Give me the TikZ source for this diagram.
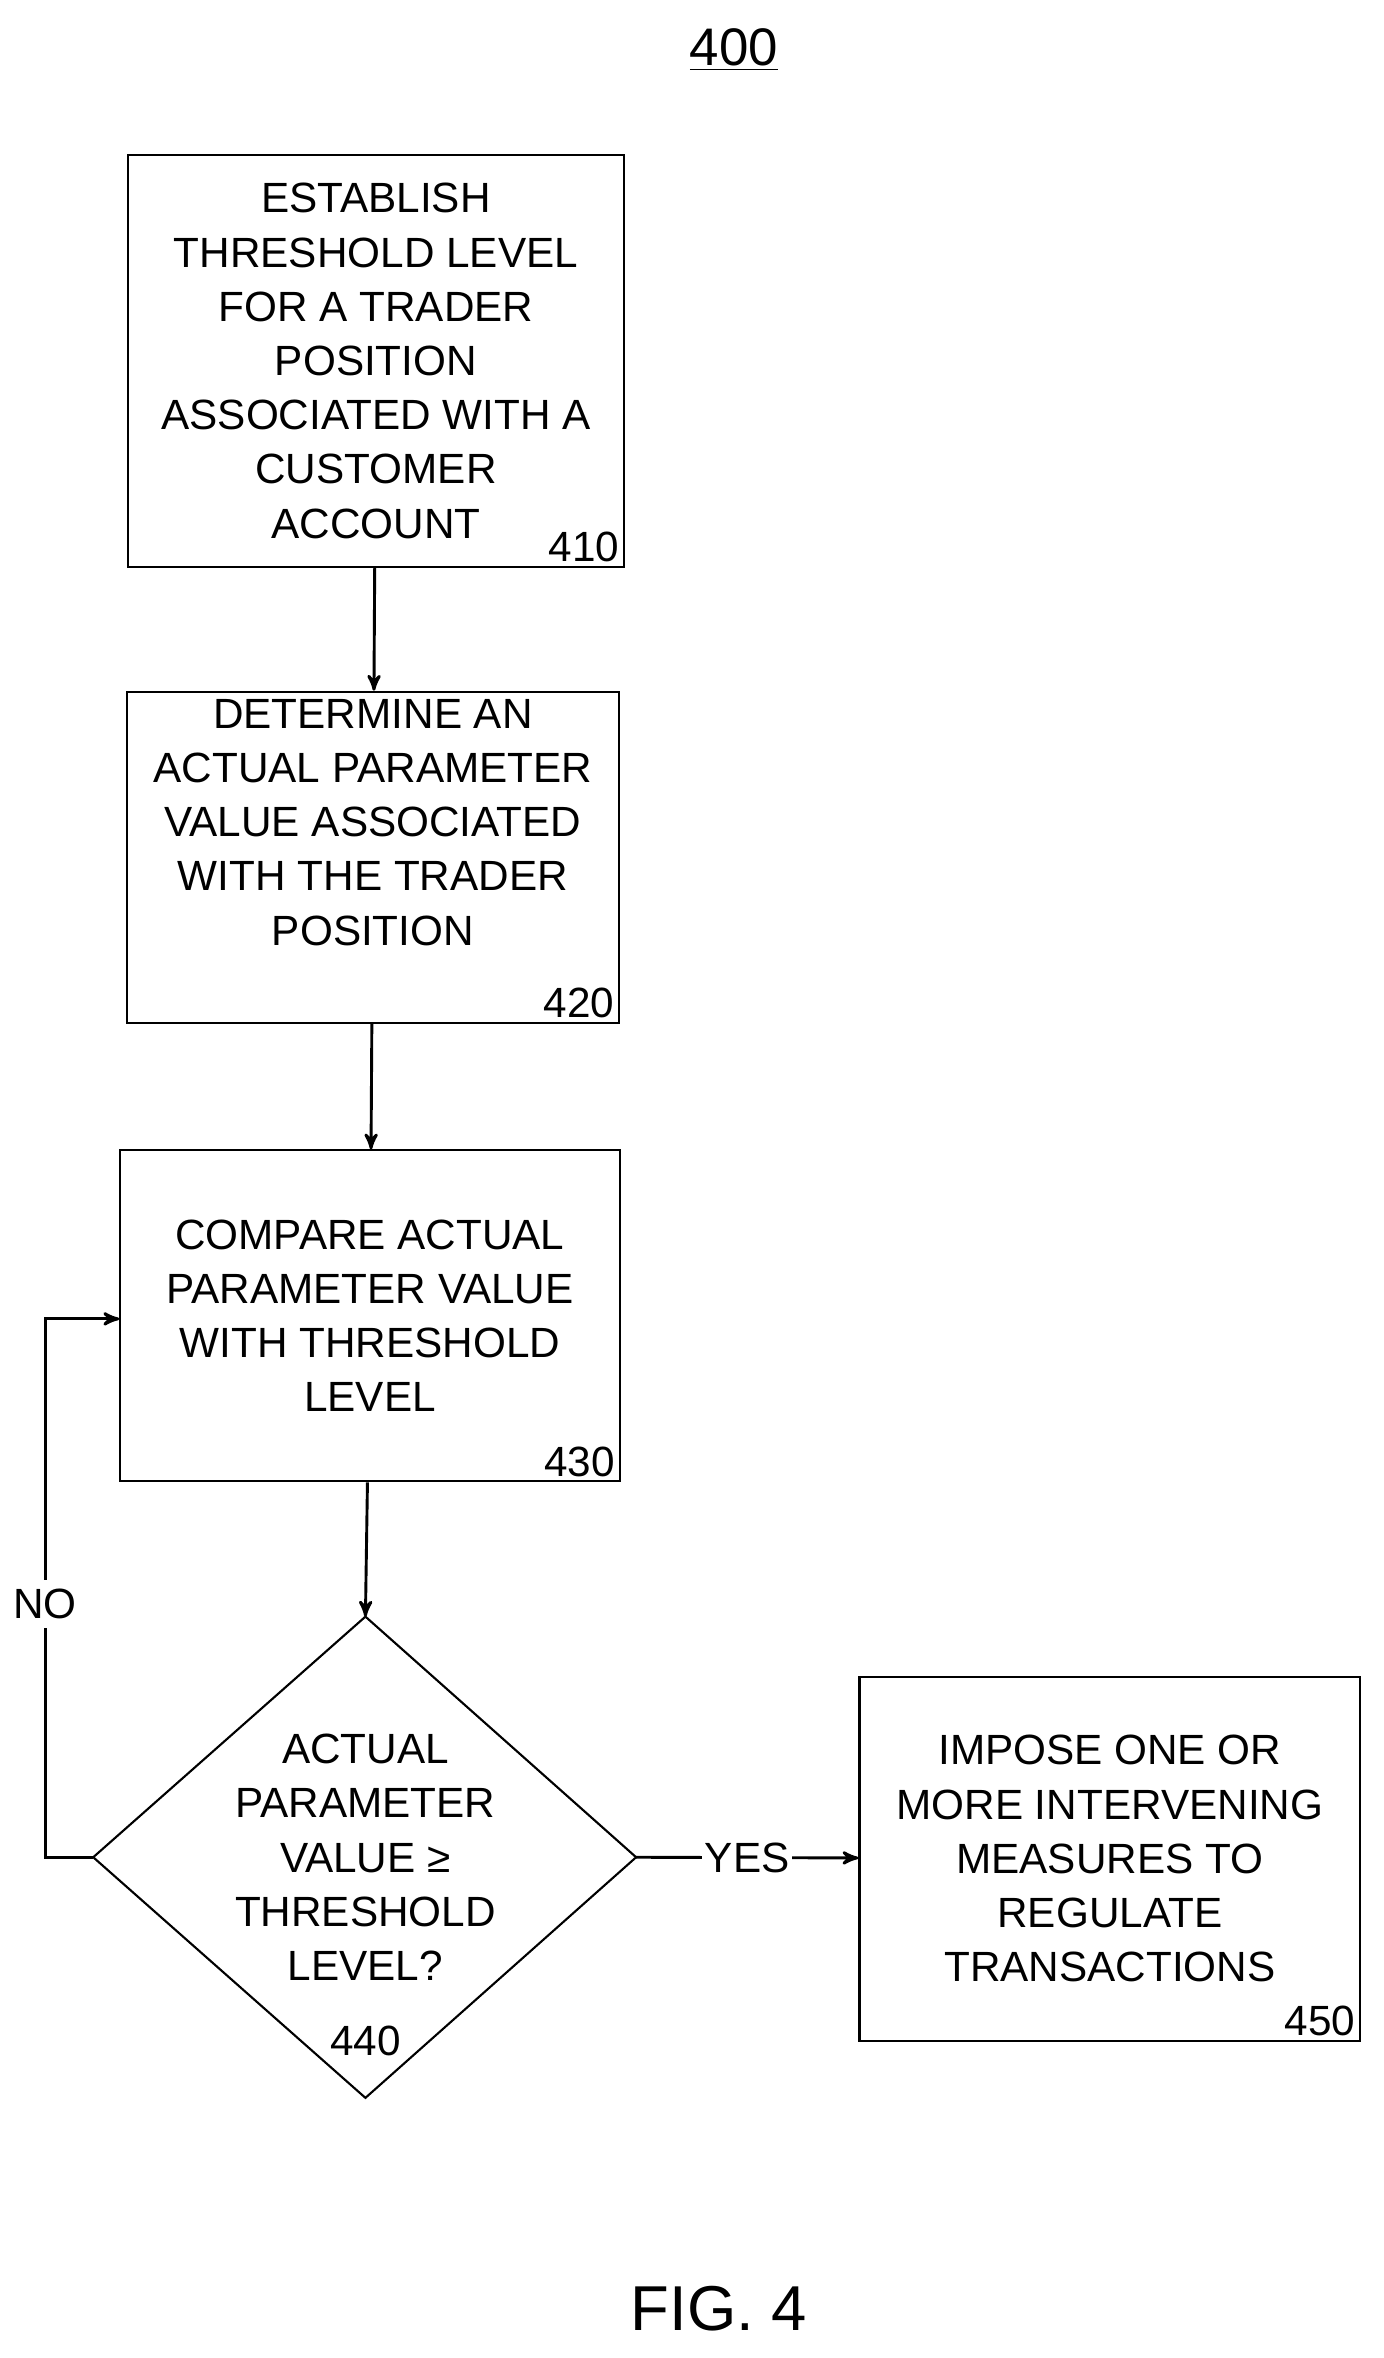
\documentclass[tikz,border=0pt]{standalone}
\usepackage{fontspec}
\setmainfont{Liberation Sans}
\usetikzlibrary{positioning,shapes,arrows,calc}
\usetikzlibrary{shapes.geometric}
\tikzstyle{every text node part}=[font=\fontsize{16}{20.5}\selectfont]
\tikzset{
  block/.style={draw,thick,align=center,inner sep=2pt},
  num/.style={anchor=south east,inner sep=2pt},
  link/.style={line width=1.1pt,->}
}

\begin{document}
\begin{tikzpicture}[>=stealth',x=0.2mm,y=-0.2mm]
      \useasboundingbox (0,0) rectangle (920,1568);

      \node (title) at (488,33) {\fontsize{20}{24}\selectfont\underline{400}};

      \node [block,minimum width=330*0.2mm,minimum height=274*0.2mm] (establish) at (250,240)
        {ESTABLISH\\THRESHOLD LEVEL\\FOR A TRADER\\POSITION\\ASSOCIATED WITH A\\CUSTOMER\\ACCOUNT};
      \node [num] at (establish.south east) {410};

      \node [block,minimum width=327*0.2mm,minimum height=220*0.2mm] (determine) at (248,570)
        {DETERMINE AN\\ACTUAL PARAMETER\\VALUE ASSOCIATED\\WITH THE TRADER\\POSITION\\[6pt]};
      \node [num] at (determine.south east) {420};

      \node [block,minimum width=332*0.2mm,minimum height=220*0.2mm] (compare) at (246,875)
        {COMPARE ACTUAL\\PARAMETER VALUE\\WITH THRESHOLD\\LEVEL};
      \node [num] at (compare.south east) {430};

      \coordinate (dtop) at (243,1075);
      \coordinate (dleft) at (62,1235);
      \coordinate (dright) at (423,1235);
      \coordinate (dbot) at (243,1395);
      \draw [thick] (dtop) -- (dright) -- (dbot) -- (dleft) -- cycle;
      \node [align=center] (decide) at (243,1235)
        {ACTUAL\\PARAMETER\\VALUE ≥\\THRESHOLD\\LEVEL?};
      \node (n440) at (243,1357) {440};

      \node [block,minimum width=333*0.2mm,minimum height=242*0.2mm] (impose) at (738,1236)
        {IMPOSE ONE OR\\MORE INTERVENING\\MEASURES TO\\REGULATE\\TRANSACTIONS};
      \node [num] at (impose.south east) {450};

      \draw [link] (establish) -- (determine);
      \draw [link] (determine) -- (compare);
      \draw [link] (compare) -- (dtop);
      \draw [link] (dright) -- node [fill=white,inner sep=1pt] {YES} (impose);
      \coordinate (loopbot) at (30,1235);
      \coordinate (looptop) at (30,877);
      \draw [link] (dleft) -- (loopbot) -- node [fill=white,pos=0.47] {NO} (looptop) -- (compare.west |- looptop);

      \node (fig) at (478,1535) {\fontsize{24}{28}\selectfont FIG. 4};
\end{tikzpicture}
\end{document}
